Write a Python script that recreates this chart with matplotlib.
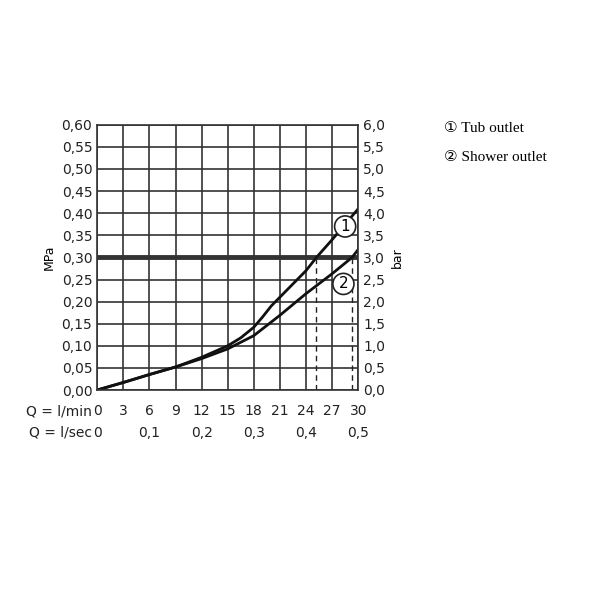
import matplotlib
matplotlib.use("Agg")
import matplotlib.pyplot as plt

x1 = [0, 3, 6, 9, 12, 15, 16.5, 18, 19, 20, 21, 24, 25.2, 27, 30]
y1 = [0, 0.017, 0.035, 0.052, 0.074, 0.10, 0.118, 0.142, 0.165, 0.19, 0.21, 0.27, 0.30, 0.34, 0.41]
x2 = [0, 3, 6, 9, 12, 15, 18, 21, 24, 27, 29.3, 30]
y2 = [0, 0.017, 0.035, 0.052, 0.071, 0.093, 0.123, 0.169, 0.218, 0.263, 0.30, 0.318]
dash_x = [25.2, 29.3]
xticks = [0, 3, 6, 9, 12, 15, 18, 21, 24, 27, 30]
sec_ticks = [0, 0.1, 0.2, 0.3, 0.4, 0.5]

fig = plt.figure(figsize=(6, 6), dpi=100)
ax = fig.add_axes([0.162, 0.35, 0.435, 0.442])
ax.set_xlim(0, 30); ax.set_ylim(0, 0.6)
ax.set_xticks(xticks)
ax.set_yticks([i * 0.05 for i in range(13)])
ax.grid(True, color="#333", lw=1.2)
for s in ax.spines.values():
    s.set_color("#333"); s.set_linewidth(1.2)
ax.tick_params(length=0, labelsize=10, colors="#222")
ax.set_xticklabels([])
ax.set_yticklabels([f"{i*0.05:.2f}".replace(".", ",") for i in range(13)])
ax.set_ylabel("MPa", fontsize=9)
ax2 = ax.twinx()
ax2.set_ylim(0, 6)
ax2.set_yticks([i * 0.5 for i in range(13)])
ax2.set_yticklabels([f"{i*0.5:.1f}".replace(".", ",") for i in range(13)])
ax2.tick_params(length=0, labelsize=10, colors="#222")
ax2.set_ylabel("bar", fontsize=9)
for s in ax2.spines.values():
    s.set_visible(False)

ax.axhline(0.30, color="#333", lw=3.5)
ax.plot(x1, y1, color="#111", lw=2)
ax.plot(x2, y2, color="#111", lw=2)
for dx in dash_x:
    ax.plot([dx, dx], [0, 0.30], color="#222", lw=1, ls=(0, (4, 3)))
for (cx, cy, t) in [(28.5, 0.37, "1"), (28.3, 0.24, "2")]:
    ax.text(cx, cy, t, ha="center", va="center", fontsize=11,
            bbox=dict(boxstyle="circle,pad=0.2", fc="white", ec="#222", lw=1.2), zorder=5)

ya, yb = -0.048, -0.097
ax.text(-0.6, ya, "Q = l/min", ha="right", va="center", fontsize=10, color="#222", clip_on=False)
ax.text(-0.6, yb, "Q = l/sec", ha="right", va="center", fontsize=10, color="#222", clip_on=False)
for t in xticks:
    ax.text(t, ya, str(t), ha="center", va="center", fontsize=10, color="#222", clip_on=False)
for s in sec_ticks:
    ax.text(s * 60, yb, f"{s:g}".replace(".", ",") if s else "0", ha="center", va="center", fontsize=10, color="#222", clip_on=False)

fam = ["Liberation Serif", "DejaVu Sans"]
fig.text(0.74, 0.785, "\u2460 Tub outlet", fontsize=11, family=fam, va="center")
fig.text(0.74, 0.738, "\u2461 Shower outlet", fontsize=11, family=fam, va="center")
fig.savefig("out.png")
